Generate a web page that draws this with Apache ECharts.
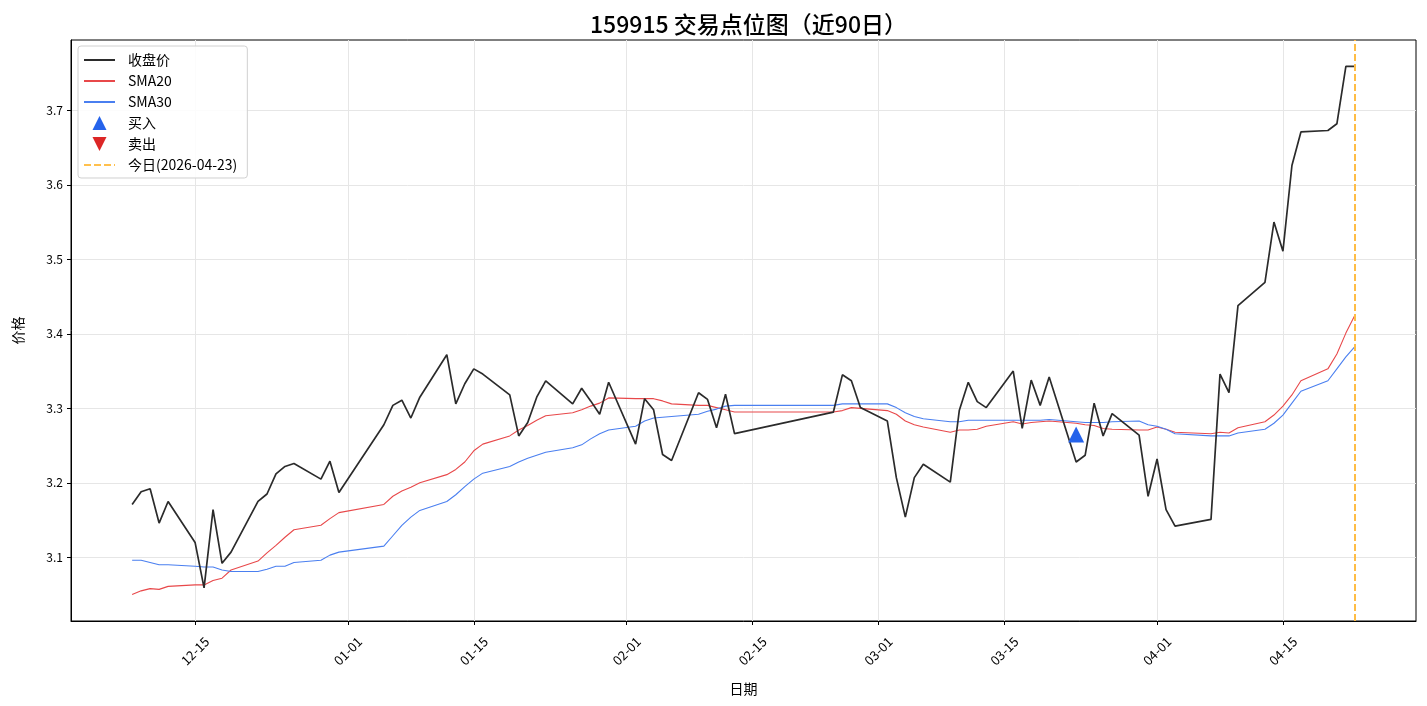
<!DOCTYPE html>
<html>
<head>
<meta charset="utf-8">
<title>159915 交易点位图</title>
<script src="https://cdn.jsdelivr.net/npm/echarts@6/dist/echarts.min.js"></script>
<style>
  html, body { margin: 0; padding: 0; background: #fff; }
  #chart { width: 1427px; height: 706px; }
</style>
</head>
<body>
<div id="chart"></div>
<script>
// 交易日
var dates = [
  '2025-12-08','2025-12-09','2025-12-10','2025-12-11','2025-12-12',
  '2025-12-15','2025-12-16','2025-12-17','2025-12-18','2025-12-19',
  '2025-12-22','2025-12-23','2025-12-24','2025-12-25','2025-12-26',
  '2025-12-29','2025-12-30','2025-12-31',
  '2026-01-05','2026-01-06','2026-01-07','2026-01-08','2026-01-09',
  '2026-01-12','2026-01-13','2026-01-14','2026-01-15','2026-01-16',
  '2026-01-19','2026-01-20','2026-01-21','2026-01-22','2026-01-23',
  '2026-01-26','2026-01-27','2026-01-28','2026-01-29','2026-01-30',
  '2026-02-02','2026-02-03','2026-02-04','2026-02-05','2026-02-06',
  '2026-02-09','2026-02-10','2026-02-11','2026-02-12','2026-02-13',
  '2026-02-24','2026-02-25','2026-02-26','2026-02-27',
  '2026-03-02','2026-03-03','2026-03-04','2026-03-05','2026-03-06',
  '2026-03-09','2026-03-10','2026-03-11','2026-03-12','2026-03-13',
  '2026-03-16','2026-03-17','2026-03-18','2026-03-19','2026-03-20',
  '2026-03-23','2026-03-24','2026-03-25','2026-03-26','2026-03-27',
  '2026-03-30','2026-03-31','2026-04-01','2026-04-02','2026-04-03',
  '2026-04-07','2026-04-08','2026-04-09','2026-04-10',
  '2026-04-13','2026-04-14','2026-04-15','2026-04-16','2026-04-17',
  '2026-04-20','2026-04-21','2026-04-22','2026-04-23'
];
// 收盘价
var closePrice = [
  3.171, 3.188, 3.192, 3.146, 3.175,
  3.120, 3.059, 3.164, 3.092, 3.107,
  3.175, 3.185, 3.212, 3.222, 3.226,
  3.205, 3.229, 3.187,
  3.278, 3.304, 3.311, 3.287, 3.315,
  3.372, 3.306, 3.333, 3.353, 3.346,
  3.318, 3.263, 3.281, 3.315, 3.337,
  3.306, 3.327, 3.310, 3.292, 3.335,
  3.252, 3.313, 3.298, 3.238, 3.230,
  3.321, 3.312, 3.274, 3.319, 3.266,
  3.295, 3.345, 3.337, 3.301,
  3.283, 3.207, 3.154, 3.207, 3.225,
  3.201, 3.297, 3.335, 3.309, 3.301,
  3.350, 3.273, 3.338, 3.304, 3.342,
  3.228, 3.237, 3.307, 3.263, 3.293,
  3.264, 3.182, 3.232, 3.164, 3.142,
  3.151, 3.346, 3.321, 3.438,
  3.469, 3.550, 3.511, 3.626, 3.671,
  3.673, 3.682, 3.759, 3.759
];
var sma20 = [
  3.050, 3.055, 3.058, 3.057, 3.061,
  3.063, 3.063, 3.069, 3.072, 3.083,
  3.095, 3.106, 3.116, 3.127, 3.137,
  3.143, 3.152, 3.160,
  3.171, 3.182, 3.189, 3.194, 3.200,
  3.211, 3.218, 3.228, 3.243, 3.252,
  3.263, 3.271, 3.277, 3.284, 3.290,
  3.294, 3.298, 3.303, 3.307, 3.314,
  3.313, 3.313, 3.313, 3.310, 3.306,
  3.304, 3.304, 3.301, 3.298, 3.295,
  3.295, 3.297, 3.301, 3.300,
  3.297, 3.292, 3.283, 3.278, 3.275,
  3.268, 3.271, 3.271, 3.272, 3.276,
  3.282, 3.279, 3.281, 3.282, 3.283,
  3.280, 3.278, 3.277, 3.273, 3.272,
  3.271, 3.271, 3.275, 3.272, 3.268,
  3.266, 3.268, 3.267, 3.274,
  3.282, 3.291, 3.303, 3.318, 3.337,
  3.353, 3.373, 3.401, 3.425
];
var sma30 = [
  3.096, 3.096, 3.093, 3.090, 3.090,
  3.088, 3.087, 3.087, 3.083, 3.081,
  3.081, 3.084, 3.088, 3.088, 3.093,
  3.096, 3.103, 3.107,
  3.115, 3.129, 3.143, 3.154, 3.163,
  3.175, 3.184, 3.195, 3.205, 3.213,
  3.222, 3.228, 3.233, 3.237, 3.241,
  3.247, 3.251, 3.259, 3.266, 3.271,
  3.276, 3.283, 3.287, 3.288, 3.289,
  3.292, 3.296, 3.299, 3.303, 3.304,
  3.304, 3.306, 3.306, 3.306,
  3.306, 3.301, 3.294, 3.289, 3.286,
  3.282, 3.282, 3.284, 3.284, 3.284,
  3.284, 3.284, 3.284, 3.284, 3.285,
  3.282, 3.281, 3.281, 3.281, 3.282,
  3.283, 3.278, 3.276, 3.272, 3.266,
  3.263, 3.263, 3.263, 3.267,
  3.272, 3.280, 3.291, 3.307, 3.323,
  3.337, 3.353, 3.369, 3.383
];
// 买卖点
var buyDates = ['2026-03-23'];
var buyPrices = [3.265];
var sellDates = [];
var sellPrices = [];
var today = '2026-04-23';
// 刻度
var xTickDates = ['2025-12-15','2026-01-01','2026-01-15','2026-02-01','2026-02-15',
                  '2026-03-01','2026-03-15','2026-04-01','2026-04-15'];
var yTicks = [3.1, 3.2, 3.3, 3.4, 3.5, 3.6, 3.7];

function toTime(s) {
  var p = s.split('-');
  return new Date(+p[0], +p[1] - 1, +p[2]).getTime();
}
function pad2(n) { return n < 10 ? '0' + n : '' + n; }
function pairs(ds, vs) {
  var out = [];
  for (var i = 0; i < ds.length; i++) out.push([toTime(ds[i]), vs[i]]);
  return out;
}

var FONT = "'Noto Sans CJK SC', sans-serif";
var t0 = toTime(dates[0]), t1 = toTime(dates[dates.length - 1]);
var xPad = (t1 - t0) * 0.05;
var allVals = closePrice.concat(sma20, sma30);
var vMin = Math.min.apply(null, allVals), vMax = Math.max.apply(null, allVals);
var yPad = (vMax - vMin) * 0.05;
var xTicks = xTickDates.map(toTime);
var hideSym = { opacity: 0 };  // 图例里线条不显示圆点

var chart = echarts.init(document.getElementById('chart'), null, { renderer: 'canvas' });
var option = {
  animation: false,
  textStyle: { fontFamily: FONT },
  title: {
    text: '159915 交易点位图（近90日）',
    left: 743.5, top: 8, textAlign: 'center',
    textStyle: { fontFamily: FONT, fontSize: 23, fontWeight: 500, color: '#000' }
  },
  legend: {
    orient: 'vertical',
    left: 78, top: 46,
    padding: [7, 10, 6, 5],
    itemWidth: 31, itemHeight: 14, itemGap: 7,
    backgroundColor: 'rgba(255,255,255,0.85)',
    borderColor: '#d0d0d0', borderWidth: 1, borderRadius: 3,
    textStyle: { fontFamily: FONT, fontSize: 14, color: '#000', padding: [0, 0, 0, 8] },
    data: [
      { name: '收盘价', itemStyle: hideSym },
      { name: 'SMA20', itemStyle: hideSym },
      { name: 'SMA30', itemStyle: hideSym },
      { name: '买入', icon: 'path://M0,-1L1,1L-1,1Z' },
      { name: '卖出', icon: 'path://M-1,-1L1,-1L0,1Z' },
      { name: '今日(' + today + ')', itemStyle: hideSym }
    ]
  },
  grid: {
    left: 71, right: 11, top: 40, bottom: 85,
    show: true, borderColor: '#000', borderWidth: 1
  },
  xAxis: {
    type: 'value', scale: true,
    min: t0 - xPad, max: t1 + xPad,
    name: '日期', nameLocation: 'middle', nameGap: 61,
    nameTextStyle: { fontFamily: FONT, fontSize: 14, color: '#000' },
    axisLine: { show: true, onZero: false, lineStyle: { color: '#000' } },
    axisTick: { show: true, length: 4, lineStyle: { color: '#000' }, customValues: xTicks },
    axisLabel: {
      customValues: xTicks,
      rotate: 45, align: 'center', verticalAlign: 'middle', margin: 30,
      fontSize: 13, color: '#000', fontFamily: FONT,
      formatter: function (v) { var d = new Date(v); return pad2(d.getMonth() + 1) + '-' + pad2(d.getDate()); }
    },
    splitLine: { show: true, lineStyle: { color: '#e6e6e6', width: 1 } }
  },
  yAxis: {
    type: 'value', scale: true,
    min: vMin - yPad, max: vMax + yPad,
    name: '价格', nameLocation: 'middle', nameGap: 46,
    nameTextStyle: { fontFamily: FONT, fontSize: 14, color: '#000' },
    axisLine: { show: true, onZero: false, lineStyle: { color: '#000' } },
    axisTick: { show: true, length: 4, lineStyle: { color: '#000' }, customValues: yTicks },
    axisLabel: { customValues: yTicks, fontSize: 12, color: '#000', margin: 8, fontFamily: FONT,
                 formatter: function (v) { return v.toFixed(1); } },
    splitLine: { show: true, lineStyle: { color: '#e6e6e6', width: 1 } }
  },
  series: [
    {
      name: '收盘价', type: 'line', data: pairs(dates, closePrice),
      symbol: 'none', z: 3,
      lineStyle: { color: '#2b2b2b', width: 1.7 }, itemStyle: { color: '#2b2b2b' }
    },
    {
      name: 'SMA20', type: 'line', data: pairs(dates, sma20),
      symbol: 'none', z: 2,
      lineStyle: { color: '#e8484a', width: 1.1 }, itemStyle: { color: '#e8484a' }
    },
    {
      name: 'SMA30', type: 'line', data: pairs(dates, sma30),
      symbol: 'none', z: 2,
      lineStyle: { color: '#4a7ff0', width: 1.1 }, itemStyle: { color: '#4a7ff0' }
    },
    {
      name: '买入', type: 'scatter', data: pairs(buyDates, buyPrices),
      symbol: 'triangle', symbolSize: 16, z: 5,
      itemStyle: { color: '#2563eb', opacity: 1 }
    },
    {
      name: '卖出', type: 'scatter', data: pairs(sellDates, sellPrices),
      symbol: 'triangle', symbolRotate: 180, symbolSize: 16, z: 5,
      itemStyle: { color: '#dc2626', opacity: 1 }
    },
    {
      name: '今日(' + today + ')', type: 'line', data: [],
      symbol: 'none',
      lineStyle: { color: '#ffc04d', width: 2, type: [7, 3] },
      itemStyle: { color: '#ffc04d' },
      markLine: {
        silent: true, symbol: 'none', label: { show: false },
        lineStyle: { color: '#ffbd45', width: 2, type: [7, 3] },
        data: [{ xAxis: toTime(today) }]
      }
    }
  ]
};
chart.setOption(option);
</script>
</body>
</html>
